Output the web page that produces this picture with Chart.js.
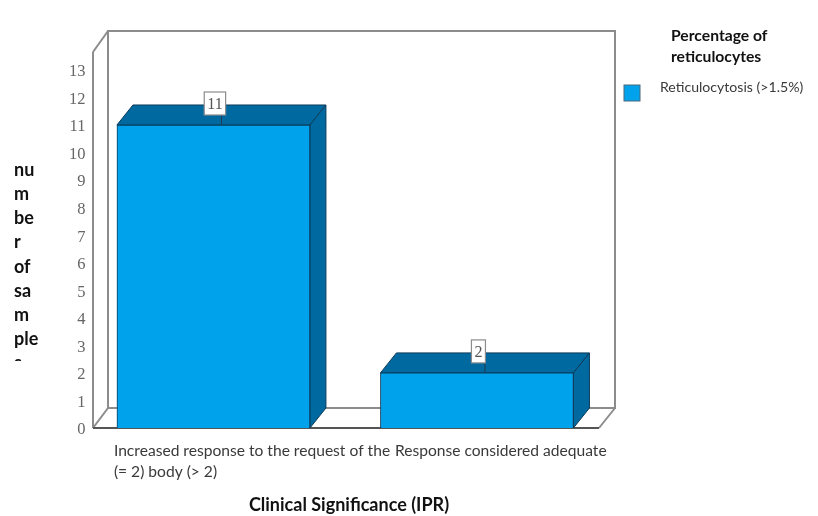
<!DOCTYPE html>
<html>
<head>
<meta charset="utf-8">
<style>
  html, body { margin: 0; padding: 0; background: #fff; }
  canvas { display: block; }
</style>
<script src="https://cdn.jsdelivr.net/npm/chart.js@4"></script>
</head>
<body>
<canvas id="chart" width="818" height="516"></canvas>
<script>
const categories = ['Increased response to the request of the', 'Response considered adequate'];
const categorySecondLines = ['(= 2) body (> 2)', ''];
const seriesName = 'Reticulocytosis (>1.5%)';
const seriesValues = [11, 2];
const legendTitle = ['Percentage of', 'reticulocytes'];
const yTitleLines = ['nu', 'm', 'be', 'r', 'of', 'sa', 'm', 'ple', 's'];
const xTitle = 'Clinical Significance (IPR)';

const depthX = 16, depthY = 20;
const front = '#00a2ec', shade = '#0069a0', edge = '#0d3a58', frameColor = '#8c8c8c';
const sans = "Lato, 'Open Sans', sans-serif";
const serif = "'Liberation Serif', serif";

function face(ctx, pts, fill) {
    ctx.beginPath();
    pts.forEach((p, i) => i ? ctx.lineTo(p[0], p[1]) : ctx.moveTo(p[0], p[1]));
    ctx.closePath();
    ctx.fillStyle = fill;
    ctx.fill();
    ctx.stroke();
}

function line(ctx, x1, y1, x2, y2) {
    ctx.beginPath();
    ctx.moveTo(x1, y1);
    ctx.lineTo(x2, y2);
    ctx.stroke();
}

// box walls + floor behind the bars
const framePlugin = {
    id: 'frame',
    beforeDatasetsDraw(chart) {
        const { ctx, chartArea: a } = chart;
        const l = a.left, r = a.right - 6, t = a.top, b = a.bottom;
        ctx.save();
        ctx.strokeStyle = frameColor;
        ctx.lineWidth = 2;
        ctx.strokeRect(l + depthX - 1, t - 21, r - l + 1, b - t + 1);
        line(ctx, l, t, l, b);
        line(ctx, l, t, l + depthX - 1, t - 21);
        line(ctx, l, b, l + depthX - 1, b - depthY);
        line(ctx, r, b, r + depthX, b - depthY);
        ctx.strokeStyle = '#555';
        line(ctx, l, b, r, b);
        ctx.restore();
    }
};

// top and side faces, drawn from the bar elements
const depthPlugin = {
    id: 'depth',
    beforeDatasetsDraw(chart) {
        const { ctx } = chart;
        ctx.save();
        ctx.strokeStyle = edge;
        ctx.lineWidth = 1;
        chart.getDatasetMeta(0).data.forEach(bar => {
            const l = bar.x - bar.width / 2, r = bar.x + bar.width / 2;
            face(ctx, [[l, bar.y], [l + depthX, bar.y - depthY], [r + depthX, bar.y - depthY], [r, bar.y]], shade);
            face(ctx, [[r, bar.y], [r + depthX, bar.y - depthY], [r + depthX, bar.base - depthY], [r, bar.base]], shade);
        });
        ctx.restore();
    },
    afterDatasetsDraw(chart) {
        const { ctx } = chart;
        ctx.save();
        ctx.font = '16px ' + serif;
        ctx.textAlign = 'center';
        ctx.textBaseline = 'middle';
        chart.getDatasetMeta(0).data.forEach((bar, i) => {
            const text = String(seriesValues[i]);
            const w = ctx.measureText(text).width + 6, h = 23;
            const cx = bar.x + 1.5, cy = bar.y - 21.5;
            ctx.strokeStyle = '#1d3c50';
            ctx.lineWidth = 1;
            line(ctx, bar.x + depthX / 2, cy + h / 2, bar.x + depthX / 2, bar.y);
            ctx.fillStyle = '#fff';
            ctx.strokeStyle = '#8c8c8c';
            ctx.lineWidth = 1.2;
            ctx.fillRect(cx - w / 2, cy - h / 2, w, h);
            ctx.strokeRect(cx - w / 2, cy - h / 2, w, h);
            ctx.fillStyle = '#555';
            ctx.fillText(text, cx, cy + 1);
        });
        ctx.restore();
    }
};

// x labels run together in the source, so they are placed by hand from the tick pixels
const textPlugin = {
    id: 'texts',
    afterDraw(chart) {
        const { ctx, scales } = chart;
        ctx.save();
        ctx.textBaseline = 'middle';
        ctx.textAlign = 'left';

        ctx.font = '15.6px ' + sans;
        ctx.fillStyle = '#3a3a3a';
        categories.forEach((c, i) => {
            const x = scales.x.getPixelForValue(i) + (i ? -82 : -99.5);
            ctx.fillText(c, x, 451);
            ctx.fillText(categorySecondLines[i], x, 472);
        });

        // legend
        ctx.fillStyle = '#111';
        ctx.font = 'bold 15.7px ' + sans;
        legendTitle.forEach((t, i) => ctx.fillText(t, 671, 36 + i * 21));
        ctx.fillStyle = front;
        ctx.strokeStyle = '#4a6a80';
        ctx.lineWidth = 1;
        ctx.fillRect(624, 85, 16, 16);
        ctx.strokeRect(624, 85, 16, 16);
        ctx.fillStyle = '#3a3a3a';
        ctx.font = '14.1px ' + sans;
        ctx.fillText(chart.data.datasets[0].label, 660, 87);

        // broken y title, last line cut off as in the source
        ctx.beginPath();
        ctx.rect(0, 150, 60, 211);
        ctx.clip();
        ctx.fillStyle = '#111';
        ctx.font = 'bold 18px ' + sans;
        yTitleLines.forEach((t, i) => ctx.fillText(t, 14, 170 + i * 24.2));
        ctx.restore();
    }
};

new Chart(document.getElementById('chart'), {
    type: 'bar',
    data: {
        datasets: [{
            label: seriesName,
            data: seriesValues.map((v, i) => ({ x: i, y: v })),
            backgroundColor: front,
            borderColor: edge,
            borderWidth: 1,
            barThickness: 193
        }]
    },
    options: {
        responsive: false,
        animation: false,
        layout: { padding: { top: 52, right: 213, bottom: 0, left: 0 } },
        plugins: { legend: { display: false }, tooltip: { enabled: false } },
        scales: {
            x: {
                type: 'linear',
                offset: false,
                min: -0.457,
                max: 1.486,
                grid: { display: false },
                border: { display: false },
                ticks: { display: false },
                title: { display: true, text: xTitle, color: '#111', font: { family: sans, size: 18, weight: 'bold' }, padding: 0 },
                afterFit: s => { s.height = 88; }
            },
            y: {
                min: 0,
                max: 13.65,
                grid: { display: false, drawTicks: false },
                border: { display: false },
                ticks: { stepSize: 1, includeBounds: false, padding: 7.5, labelOffset: 2, color: '#666', font: { family: serif, size: 16.5 } },
                afterFit: s => { s.width = 93; }
            }
        }
    },
    plugins: [framePlugin, depthPlugin, textPlugin]
});
</script>
</body>
</html>
